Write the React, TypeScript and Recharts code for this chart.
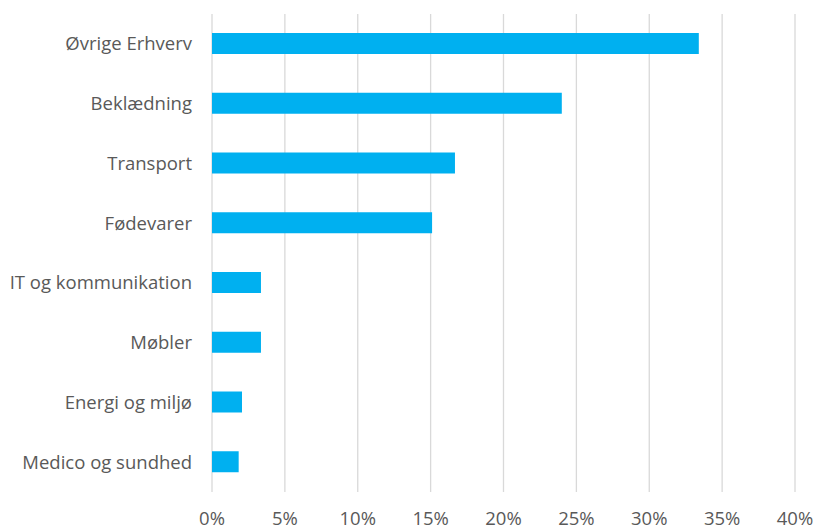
import React from 'react';
import { BarChart, Bar, XAxis, YAxis, CartesianGrid } from 'recharts';

const categories = [
  'Øvrige Erhverv',
  'Beklædning',
  'Transport',
  'Fødevarer',
  'IT og kommunikation',
  'Møbler',
  'Energi og miljø',
  'Medico og sundhed',
];

const shares = [0.334, 0.24, 0.1667, 0.151, 0.0336, 0.0336, 0.0206, 0.0183];

const xTicks = [0, 0.05, 0.1, 0.15, 0.2, 0.25, 0.3, 0.35, 0.4];

const data = categories.map((name, i) => ({ name, value: shares[i] }));

const FONT = '"Open Sans", "Noto Sans", sans-serif';
const TEXT = '#595959';

export default function App() {
  return (
    <div style={{ position: 'absolute', left: 0, top: 0, width: 815, height: 530, background: '#fff' }}>
      <BarChart
        width={815}
        height={530}
        data={data}
        layout="vertical"
        margin={{ top: 14, right: 20, bottom: 0, left: 0 }}
      >
        <CartesianGrid horizontal={false} stroke="#d9d9d9" strokeWidth={1.3} />
        <XAxis
          type="number"
          domain={[0, 0.4]}
          ticks={xTicks}
          interval={0}
          height={38}
          axisLine={false}
          tickLine={false}
          tickMargin={14}
          tickFormatter={(v: number) => `${Math.round(v * 100)}%`}
          tick={{ fill: TEXT, fontSize: 18.5, fontFamily: FONT }}
        />
        <YAxis
          type="category"
          dataKey="name"
          width={212}
          axisLine={false}
          tickLine={false}
          tickMargin={14}
          interval={0}
          tick={{ fill: TEXT, fontSize: 18.5, fontFamily: FONT }}
        />
        <Bar dataKey="value" fill="#00b0f0" barSize={21} isAnimationActive={false} />
      </BarChart>
    </div>
  );
}
